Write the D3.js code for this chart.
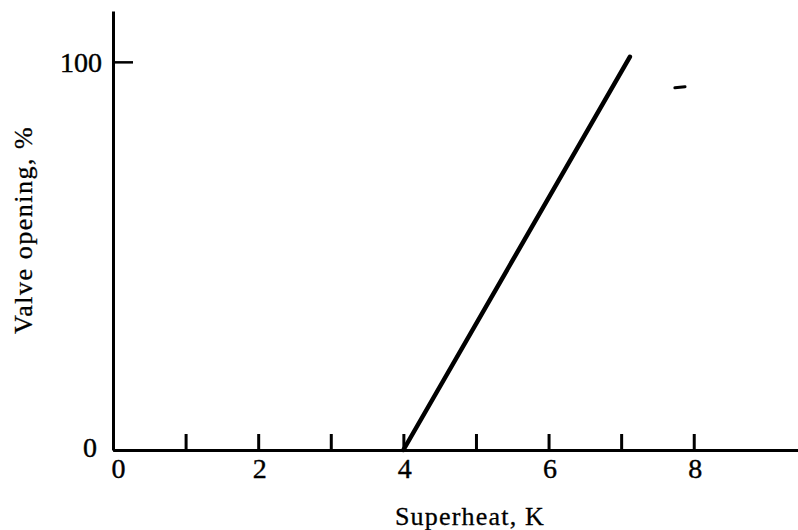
<!DOCTYPE html>
<html>
<head>
<meta charset="utf-8">
<script src="https://cdn.jsdelivr.net/npm/d3@7"></script>
<style>
  html, body { margin: 0; padding: 0; background: #fff; }
  svg { display: block; }
</style>
</head>
<body>
<svg id="chart" width="798" height="530"></svg>
<script>
// ---- data ----
const xTicks = [0, 1, 2, 3, 4, 5, 6, 7, 8];
const xTickLabels = ["0", "", "2", "", "4", "", "6", "", "8"];
const yTicks = [0, 100];
const yTickLabels = ["0", "100"];
const superheat = [4.0, 7.12];
const valveOpening = [0, 101.3];
const strayMarkX = [7.74, 7.88];
const strayMarkY = [93.3, 93.6];
const xLabel = "Superheat, K";
const yLabel = "Valve opening, %";

// ---- layout ----
const FONT = "'Liberation Serif', 'DejaVu Serif', serif";
const svg = d3.select("#chart");
const x = d3.scaleLinear().domain([0, 9.45]).range([113, 799]);
const y = d3.scaleLinear().domain([0, 113.1]).range([450, 11]);

// x axis
const gx = svg.append("g").attr("transform", `translate(0,${y(0)})`)
  .call(d3.axisBottom(x).tickValues(xTicks).tickSizeInner(-16).tickSizeOuter(0)
    .tickFormat((d, i) => xTickLabels[i]));
gx.attr("font-family", FONT).attr("font-size", 28);
gx.select(".domain").attr("stroke", "#000").attr("stroke-width", 3);
gx.selectAll(".tick line").attr("stroke", "#000").attr("stroke-width", 3);
gx.selectAll(".tick text").attr("font-size", 28).attr("fill", "#000")
  .attr("stroke", "#000").attr("stroke-width", 0.4)
  .attr("y", 28).attr("dy", 0)
  .attr("dx", (d) => d === 0 ? 5 : 1);

// y axis
const gy = svg.append("g").attr("transform", `translate(${x(0)},0)`)
  .call(d3.axisLeft(y).tickValues(yTicks).tickSizeInner(-20).tickSizeOuter(0)
    .tickPadding(10).tickFormat((d, i) => yTickLabels[i]));
gy.attr("font-family", FONT).attr("font-size", 28);
gy.select(".domain").attr("stroke", "#000").attr("stroke-width", 3);
gy.selectAll(".tick line").attr("stroke", "#000").attr("stroke-width", 2.5);
gy.selectAll(".tick text").attr("font-size", 28).attr("fill", "#000")
  .attr("stroke", "#000").attr("stroke-width", 0.4)
  .attr("x", (d) => d === 0 ? -16 : -11)
  .attr("dy", (d) => d === 0 ? "0.22em" : "0.34em");

// main line
const line = d3.line().x(d => x(d[0])).y(d => y(d[1]));
svg.append("path")
  .datum(superheat.map((v, i) => [v, valveOpening[i]]))
  .attr("d", line)
  .attr("fill", "none").attr("stroke", "#000").attr("stroke-width", 4.5)
  .attr("stroke-linecap", "round");

// small stray mark near the top right
svg.append("path")
  .datum(strayMarkX.map((v, i) => [v, strayMarkY[i]]))
  .attr("d", line)
  .attr("fill", "none").attr("stroke", "#000").attr("stroke-width", 3)
  .attr("stroke-linecap", "round");

// axis titles
svg.append("text").attr("x", 470).attr("y", 525)
  .attr("text-anchor", "middle").attr("font-family", FONT).attr("font-size", 26)
  .attr("letter-spacing", 1.2).attr("stroke", "#000").attr("stroke-width", 0.3)
  .text(xLabel);
svg.append("text")
  .attr("transform", `translate(32,230) rotate(-90)`)
  .attr("text-anchor", "middle").attr("font-family", FONT).attr("font-size", 26)
  .attr("letter-spacing", 1.5).attr("stroke", "#000").attr("stroke-width", 0.3)
  .text(yLabel);
</script>
</body>
</html>
